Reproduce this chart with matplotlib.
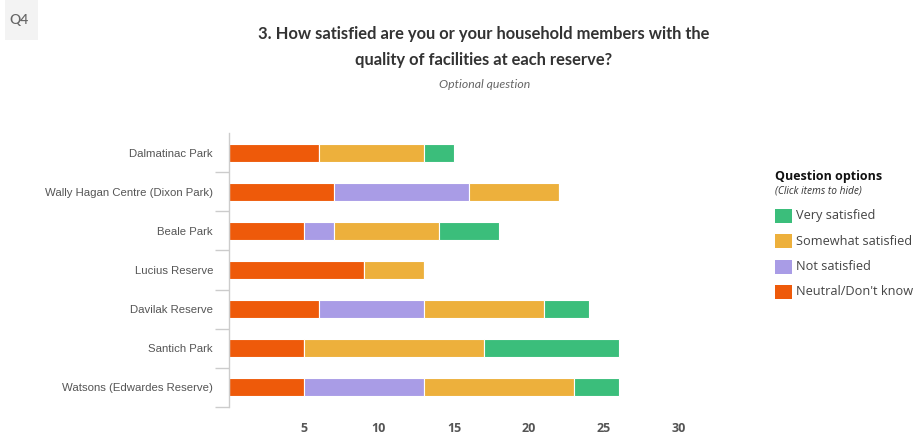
import matplotlib
matplotlib.use("Agg")
import matplotlib.pyplot as plt
import numpy as np
from matplotlib.patches import Rectangle

categories = [
    "Dalmatinac Park",
    "Wally Hagan Centre (Dixon Park)",
    "Beale Park",
    "Lucius Reserve",
    "Davilak Reserve",
    "Santich Park",
    "Watsons (Edwardes Reserve)",
]
neutral = [6, 7, 5, 9, 6, 5, 5]
not_satisfied = [0, 9, 2, 0, 7, 0, 8]
somewhat = [7, 6, 7, 4, 8, 12, 10]
very = [2, 0, 4, 0, 3, 9, 3]

series_names = ["Neutral/Don't know", "Not satisfied", "Somewhat satisfied", "Very satisfied"]
series_values = [neutral, not_satisfied, somewhat, very]
colors = ["#EE5A0A", "#A99CE6", "#EDB03C", "#3BBE7B"]

x_ticks = [5, 10, 15, 20, 25, 30]

W, H = 916, 437
fig = plt.figure(figsize=(W / 100, H / 100), dpi=100)
fig.patch.set_facecolor("white")

ax = fig.add_axes([229 / W, 1 - 407 / H, 450 / W, 274 / H])
y = np.arange(len(categories))
left = np.zeros(len(categories))
for name, vals, c in zip(series_names, series_values, colors):
    vals = np.array(vals, dtype=float)
    ax.barh(y, vals, left=left, height=0.46, color=c, edgecolor="white",
            linewidth=0.8, label=name)
    left += vals

ax.set_xlim(0, 30)
ax.set_ylim(len(categories) - 0.5, -0.5)
ax.set_yticks(y)
ax.set_yticklabels(categories, fontsize=8.2, color="#555555",
                   family="Liberation Sans")
# separator ticks between the category rows
ax.set_yticks(np.arange(len(categories)) + 0.5, minor=True)
ax.tick_params(axis="y", which="major", length=0, pad=11.5)
ax.tick_params(axis="y", which="minor", length=10, color="#cccccc", width=1)
ax.set_xticks(x_ticks)
ax.set_xticklabels([str(t) for t in x_ticks], fontsize=9, color="#555555",
                   fontweight="bold", family="Open Sans")
ax.tick_params(axis="x", length=0, pad=11)
for s in ["top", "right", "bottom"]:
    ax.spines[s].set_visible(False)
ax.spines["left"].set_color("#cccccc")
ax.spines["left"].set_linewidth(1)

# Question badge
fig.patches.append(Rectangle((5 / W, 1 - 40 / H), 33 / W, 40 / H,
                             transform=fig.transFigure, facecolor="#f3f3f3",
                             edgecolor="none"))
fig.text(19 / W, 1 - 20 / H, "Q4", fontsize=10, color="#666666",
         fontweight="semibold", ha="center", va="center", family="Lato")

# Title
fig.text(484 / W, 1 - 34 / H,
         "3. How satisfied are you or your household members with the",
         fontsize=11.9, fontweight="bold", color="#333333", ha="center",
         va="center", family="Lato")
fig.text(484 / W, 1 - 60 / H, "quality of facilities at each reserve?",
         fontsize=11.9, fontweight="bold", color="#333333", ha="center",
         va="center", family="Lato")
fig.text(485 / W, 1 - 84 / H, "Optional question", fontsize=8.8,
         style="italic", color="#666666", ha="center", va="center",
         family="Lato")

# Legend
lx = 775
fig.text(lx / W, 1 - 177 / H, "Question options", fontsize=9,
         fontweight="bold", color="#111111", ha="left", va="center",
         family="Open Sans")
fig.text(lx / W, 1 - 191 / H, "(Click items to hide)", fontsize=7.3,
         style="italic", color="#333333", ha="left", va="center",
         family="Open Sans")
legend_order = [3, 2, 1, 0]
for i, idx in enumerate(legend_order):
    cy = 216 + i * 25.3
    fig.patches.append(Rectangle((lx / W, 1 - (cy + 7) / H), 17 / W, 14 / H,
                                 transform=fig.transFigure,
                                 facecolor=colors[idx], edgecolor="none"))
    fig.text((lx + 21) / W, 1 - cy / H, series_names[idx], fontsize=9.2,
             color="#444444", ha="left", va="center", family="Open Sans")

fig.savefig("out.png", dpi=100, facecolor="white")
